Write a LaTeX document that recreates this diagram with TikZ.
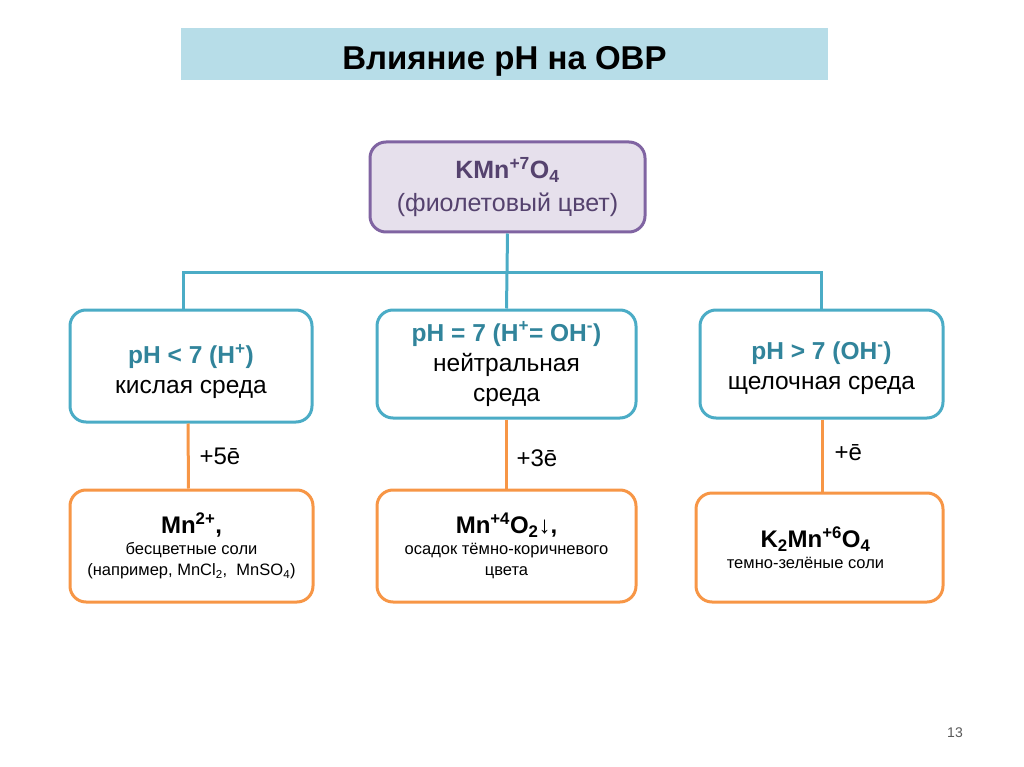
\documentclass[tikz,border=0pt]{standalone}
\usepackage{fontspec}
\setmainfont{Liberation Sans}
\usetikzlibrary{positioning}
\definecolor{bandblue}{HTML}{B7DDE8}
\definecolor{lavender}{HTML}{E6E0EC}
\definecolor{violetline}{HTML}{8064A2}
\definecolor{violettext}{HTML}{55426E}
\definecolor{tealline}{HTML}{4BACC6}
\definecolor{tealtext}{HTML}{31849B}
\definecolor{orangeline}{HTML}{F79646}

\begin{document}
\begin{tikzpicture}[x=1pt,y=-1pt,
  topbox/.style={draw=violetline, fill=lavender, line width=3pt, rounded corners=16pt,
    align=center, text=violettext, font=\fontsize{25}{33}\selectfont},
  phbox/.style={draw=tealline, fill=white, line width=3pt, rounded corners=16pt,
    align=center, font=\fontsize{24.5}{30}\selectfont},
  saltbox/.style={draw=orangeline, fill=white, line width=3pt, rounded corners=16pt,
    align=center, font=\fontsize{16.5}{21}\selectfont},
  treeline/.style={draw=tealline, line width=3pt},
  saltline/.style={draw=orangeline, line width=3pt},
  elabel/.style={anchor=west, font=\fontsize{24}{28}\selectfont}]
\useasboundingbox (0,0) rectangle (1024,767);

\node[fill=bandblue, minimum width=647pt, minimum height=52pt] (title) at (504.5,54)
  {\fontsize{33}{36}\selectfont\bfseries\rule{0pt}{38pt}Влияние pH на ОВР};

\node[topbox, minimum width=275pt, minimum height=90pt] (kmno) at (507.5,187)
  {{\bfseries KMn\textsuperscript{+7}O\textsubscript{4}}\\(фиолетовый цвет)};

\node[phbox, minimum width=242pt, minimum height=112pt] (acid) at (191,366)
  {\rule{0pt}{30pt}\textcolor{tealtext}{\bfseries pH < 7 (H\textsuperscript{+})}\\кислая среда};
\node[phbox, minimum width=259pt, minimum height=108pt] (neutral) at (506.5,364)
  {\textcolor{tealtext}{\bfseries pH = 7 (H\textsuperscript{+}= OH\textsuperscript{-})}\\нейтральная\\среда};
\node[phbox, minimum width=243pt, minimum height=108pt] (alkaline) at (821.5,364)
  {\rule{0pt}{26pt}\textcolor{tealtext}{\bfseries pH > 7 (OH\textsuperscript{-})}\\щелочная среда};

\node[saltbox, minimum width=243pt, minimum height=112pt] (mnii) at (191.5,546)
  {{\fontsize{24}{28}\selectfont\bfseries Mn\textsuperscript{2+},}\\бесцветные соли\\(например, MnCl\textsubscript{2},\ \ MnSO\textsubscript{4})};
\node[saltbox, minimum width=259pt, minimum height=112pt] (mniv) at (506.5,546)
  {{\fontsize{24}{28}\selectfont\bfseries Mn\textsuperscript{+4}O\textsubscript{2}↓,}\\осадок тёмно-коричневого\\цвета};
\node[saltbox, minimum width=247pt, minimum height=109pt] (mnvi) at (819.5,547.5)
  {{\fontsize{24}{28}\selectfont\bfseries K\textsubscript{2}Mn\textsuperscript{+6}O\textsubscript{4}}\hspace*{8pt}\\темно-зелёные соли\hspace*{28pt}};

% teal tree
\coordinate (split) at (507,272);
\draw[treeline] (kmno.south) -- (split);
\draw[treeline] ([xshift=-8pt]acid.north) |- (split) -| (alkaline.north);
\draw[treeline] (split) -- (neutral.north);

% orange links
\draw[saltline] ([xshift=-3pt]acid.south) -- ([xshift=-3pt]mnii.north);
\draw[saltline] (neutral.south) -- (mniv.north);
\draw[saltline] ([xshift=1pt]alkaline.south) -- ([xshift=3pt]mnvi.north);

\node[elabel] (five) at (196,456) {+5ē};
\node[elabel] (three) at (513,458) {+3ē};
\node[elabel] (one) at (831,453) {+ē};

\node[text=black!65, font=\fontsize{14}{16}\selectfont] (page) at (955,733) {13};
\end{tikzpicture}
\end{document}
